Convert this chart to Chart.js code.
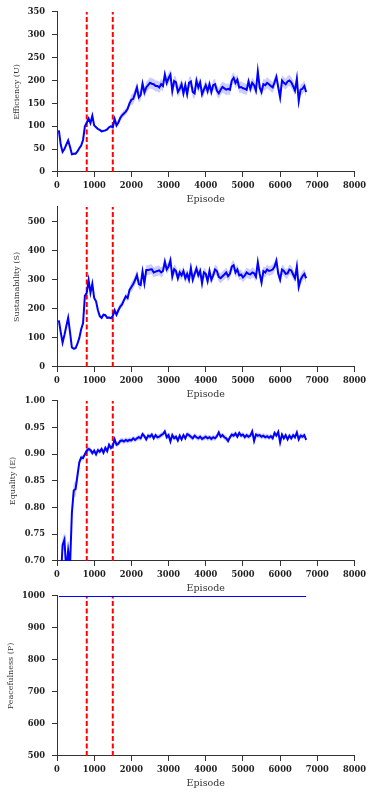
<!DOCTYPE html>
<html>
<head>
<meta charset="utf-8">
<script src="https://cdn.jsdelivr.net/npm/chart.js@4.4.1/dist/chart.umd.min.js"></script>
<style>
  html, body { margin: 0; padding: 0; background: #fff; }
  body { width: 373px; height: 796px; position: relative; overflow: hidden; }
  canvas { position: absolute; left: 0; }
</style>
</head>
<body>
<canvas id="c1" width="373" height="208" style="top:0px"></canvas>
<canvas id="c2" width="373" height="208" style="top:195px"></canvas>
<canvas id="c3" width="373" height="208" style="top:389px"></canvas>
<canvas id="c4" width="373" height="208" style="top:584px"></canvas>
<script>
// episodes: one point every 50 episodes, 50 .. 6700
const episodes = [];
for (let e = 50; e <= 6700; e += 50) episodes.push(e);

// phase boundaries (red dashed lines)
const phaseLines = [800, 1500];

// x axis ticks
const xTicks = [0, 1000, 2000, 3000, 4000, 5000, 6000, 7000, 8000];

// Efficiency (U)
const efficiency = [
  91, 60, 44, 50, 60, 69, 55, 39, 40, 40,
  45, 52, 58, 70, 100, 108, 117, 107, 123, 102,
  98, 94, 92, 89, 90, 91, 93, 98, 100, 98,
  116, 102, 108, 118, 124, 128, 132, 138, 150, 158,
  160, 172, 185, 163, 168, 193, 174, 185, 190, 195,
  193, 192, 188, 188, 185, 192, 188, 213, 195, 205,
  213, 177, 199, 196, 175, 182, 192, 172, 190, 170,
  195, 198, 175, 172, 200, 185, 196, 170, 180, 190,
  177, 192, 175, 190, 192, 178, 172, 180, 186, 183,
  180, 182, 180, 200, 206, 195, 202, 185, 186, 183,
  182, 180, 198, 182, 195, 190, 178, 220, 185, 175,
  192, 190, 195, 192, 188, 185, 196, 208, 185, 163,
  200, 195, 192, 198, 200, 196, 188, 178, 204, 155,
  180, 182, 188, 175
];
// Sustainability (S)
const sustainability = [
  160, 120, 84, 110, 140, 169, 120, 67, 63, 65,
  80, 100, 130, 150, 245, 255, 298, 255, 286, 237,
  226, 195, 175, 169, 180, 178, 169, 170, 168, 175,
  195, 180, 195, 208, 215, 230, 243, 237, 265, 275,
  285, 299, 316, 285, 282, 328, 288, 333, 333, 335,
  336, 325, 328, 330, 332, 325, 330, 362, 335, 345,
  367, 311, 336, 330, 305, 325, 315, 330, 305, 320,
  300, 340, 300, 320, 338, 315, 330, 288, 325, 320,
  295, 330, 300, 315, 335, 330, 310, 305, 312, 318,
  325, 312, 320, 345, 350, 325, 335, 315, 318, 308,
  315, 325, 320, 318, 325, 322, 310, 360, 320, 290,
  330, 325, 335, 330, 332, 335, 345, 365, 320, 300,
  335, 330, 320, 322, 335, 332, 318, 305, 345, 275,
  300, 312, 320, 305
];
// Equality (E)
const equality = [
  0.62, 0.66, 0.73, 0.74, 0.68, 0.72, 0.69, 0.79, 0.832, 0.835,
  0.86, 0.885, 0.894, 0.893, 0.90, 0.907, 0.91, 0.908, 0.902, 0.907,
  0.90, 0.908, 0.905, 0.91, 0.903, 0.912, 0.906, 0.918, 0.912, 0.916,
  0.928, 0.918, 0.92, 0.925, 0.926, 0.924, 0.927, 0.925, 0.927, 0.926,
  0.93, 0.927, 0.93, 0.932, 0.93, 0.938, 0.934, 0.928, 0.935, 0.933,
  0.937, 0.93, 0.936, 0.932, 0.933, 0.936, 0.938, 0.943, 0.932, 0.936,
  0.924, 0.936, 0.93, 0.933, 0.926, 0.935, 0.928, 0.936, 0.93, 0.938,
  0.936, 0.933, 0.93, 0.935, 0.932, 0.93, 0.933, 0.929, 0.931, 0.933,
  0.93, 0.932, 0.929, 0.932, 0.93, 0.934, 0.941, 0.933, 0.936, 0.932,
  0.93, 0.925, 0.932, 0.937, 0.935, 0.939, 0.933, 0.94, 0.935, 0.937,
  0.932, 0.936, 0.933, 0.935, 0.943, 0.925, 0.937, 0.935, 0.936, 0.933,
  0.935, 0.932, 0.934, 0.931, 0.934, 0.93, 0.94, 0.935, 0.942, 0.922,
  0.937, 0.93, 0.936, 0.928, 0.935, 0.93, 0.936, 0.932, 0.941, 0.928,
  0.935, 0.933, 0.936, 0.927
];
// Peacefulness (P)
const peacefulness = [
  1000, 1000, 1000, 1000, 1000, 1000, 1000, 1000, 1000, 1000,
  1000, 1000, 1000, 1000, 1000, 1000, 1000, 1000, 1000, 1000,
  1000, 1000, 1000, 1000, 1000, 1000, 1000, 1000, 1000, 1000,
  1000, 1000, 1000, 1000, 1000, 1000, 1000, 1000, 1000, 1000,
  1000, 1000, 1000, 1000, 1000, 1000, 1000, 1000, 1000, 1000,
  1000, 1000, 1000, 1000, 1000, 1000, 1000, 1000, 1000, 1000,
  1000, 1000, 1000, 1000, 1000, 1000, 1000, 1000, 1000, 1000,
  1000, 1000, 1000, 1000, 1000, 1000, 1000, 1000, 1000, 1000,
  1000, 1000, 1000, 1000, 1000, 1000, 1000, 1000, 1000, 1000,
  1000, 1000, 1000, 1000, 1000, 1000, 1000, 1000, 1000, 1000,
  1000, 1000, 1000, 1000, 1000, 1000, 1000, 1000, 1000, 1000,
  1000, 1000, 1000, 1000, 1000, 1000, 1000, 1000, 1000, 1000,
  1000, 1000, 1000, 1000, 1000, 1000, 1000, 1000, 1000, 1000,
  1000, 1000, 1000, 1000
];

// shaded band half width: [from episode, half width]
const bandU = [[0, 3], [1500, 7], [2000, 12]];
const bandS = [[0, 5], [1500, 11], [2000, 17]];
const bandE = [[0, 0.014], [600, 0.005]];
const bandP = [[0, 0]];

// y axis ticks
const yTicksU = [0, 50, 100, 150, 200, 250, 300, 350];
const yTicksS = [0, 100, 200, 300, 400, 500];
const yTicksE = [0.70, 0.75, 0.80, 0.85, 0.90, 0.95, 1.00];
const yTicksP = [500, 600, 700, 800, 900, 1000];

const serif = "'DejaVu Serif', serif";
const axisColor = "#333";

function halfWidth(band, ep) {
  let w = 0;
  band.forEach(([from, v]) => { if (ep >= from) w = v; });
  return w;
}

function makePanel(id, values, band, yTicks, yMin, yMax, yTitle, titlePad, decimals) {
  const mean = episodes.map((e, i) => ({ x: e, y: values[i] }));
  const lower = episodes.map((e, i) => ({ x: e, y: values[i] - halfWidth(band, e) }));
  const upper = episodes.map((e, i) => ({ x: e, y: values[i] + halfWidth(band, e) }));

  const datasets = [
    { data: lower, borderWidth: 0, pointRadius: 0, fill: false, clip: 0 },
    { data: upper, borderWidth: 0, pointRadius: 0, fill: "-1", backgroundColor: "rgba(0,0,255,0.2)", clip: 0 },
    { data: mean, borderColor: "#0000ff", borderWidth: 2, pointRadius: 0, fill: false, clip: 0 },
  ];
  phaseLines.forEach((x) => {
    datasets.push({
      data: [{ x: x, y: yMin }, { x: x, y: yMax }],
      borderColor: "#ff0000",
      borderWidth: 2,
      borderDash: [5, 2.5],
      pointRadius: 0,
      fill: false,
      clip: 0,
    });
  });

  return new Chart(document.getElementById(id), {
    type: "line",
    data: { datasets },
    options: {
      responsive: false,
      animation: false,
      events: [],
      layout: { padding: { top: 10, right: 18.5, left: 0, bottom: 0 } },
      plugins: { legend: { display: false }, tooltip: { enabled: false } },
      elements: { line: { tension: 0 } },
      scales: {
        x: {
          type: "linear",
          min: 0,
          max: 8000,
          afterFit: (s) => { s.height = 36; },
          afterBuildTicks: (s) => { s.ticks = xTicks.map((v) => ({ value: v })); },
          grid: { drawOnChartArea: false, tickLength: 5, color: axisColor },
          border: { color: axisColor, width: 1 },
          ticks: {
            padding: 4,
            maxRotation: 0,
            color: "#222",
            font: { family: serif, weight: "bold", size: 8.3 },
            callback: (v) => String(v),
          },
          title: {
            display: true,
            text: "Episode",
            color: "#333",
            font: { family: serif, size: 9.5 },
            padding: { top: 2.3, bottom: 2.3 },
          },
        },
        y: {
          type: "linear",
          min: yMin,
          max: yMax,
          afterFit: (s) => { s.width = 57; },
          afterBuildTicks: (s) => { s.ticks = yTicks.map((v) => ({ value: v })); },
          grid: { drawOnChartArea: false, tickLength: 5, color: axisColor },
          border: { color: axisColor, width: 1 },
          ticks: {
            padding: 7,
            color: "#222",
            font: { family: serif, weight: "bold", size: 8.3 },
            callback: (v) => v.toFixed(decimals),
          },
          title: {
            display: true,
            text: yTitle,
            color: "#333",
            font: { family: serif, size: 8 },
            padding: { top: titlePad, bottom: titlePad },
          },
        },
      },
    },
  });
}

makePanel("c1", efficiency, bandU, yTicksU, 0, 350, "Efficiency (U)", 12, 0);
makePanel("c2", sustainability, bandS, yTicksS, 0, 550, "Sustainability (S)", 12, 0);
makePanel("c3", equality, bandE, yTicksE, 0.7, 1.0, "Equality (E)", 8.5, 2);
makePanel("c4", peacefulness, bandP, yTicksP, 500, 1000, "Peacefulness (P)", 6.5, 0);
</script>
</body>
</html>
